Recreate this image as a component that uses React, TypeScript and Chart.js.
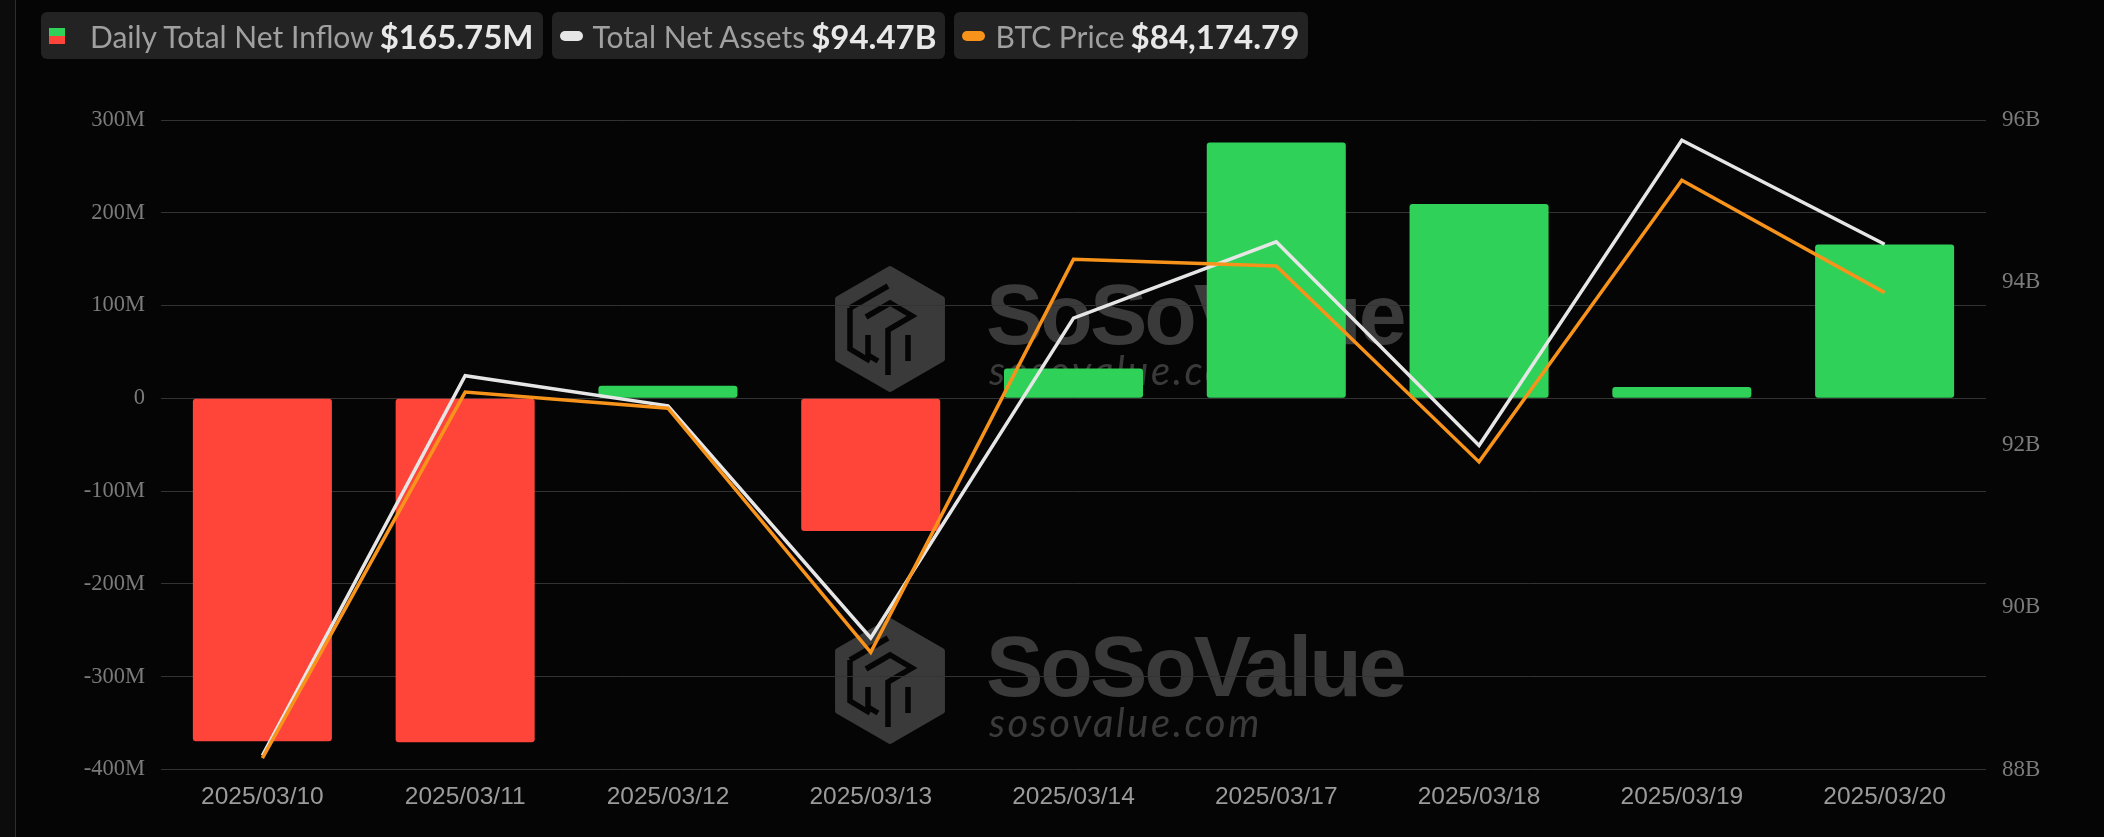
import React, { useEffect, useRef } from 'react';
import { Chart, registerables } from 'chart.js';

Chart.register(...registerables);

// ---------- data ----------
const categories = [
  '2025/03/10', '2025/03/11', '2025/03/12', '2025/03/13', '2025/03/14',
  '2025/03/17', '2025/03/18', '2025/03/19', '2025/03/20',
];
// Daily total net inflow, in millions of USD
const netInflowM = [-369.5, -370.5, 13.6, -142.9, 32.2, 275.8, 209.6, 12.2, 165.75];
// Total net assets, in billions of USD
const totalNetAssetsB = [88.17, 92.85, 92.48, 89.62, 93.56, 94.5, 91.99, 95.75, 94.47];
// BTC price, USD
const btcPrice = [78498, 82962, 82766, 79789, 84581, 84499, 82111, 85546, 84174.79];

// axis ranges
const inflowMin = -400;
const inflowMax = 300;
const inflowStep = 100;
const assetsMin = 88;
const assetsMax = 96;
const assetsStep = 2;
const priceMin = 78360;
const priceMax = 86280;

// legend texts
const legendInflowLabel = 'Daily Total Net Inflow';
const legendInflowValue = '$165.75M';
const legendAssetsLabel = 'Total Net Assets';
const legendAssetsValue = '$94.47B';
const legendPriceLabel = 'BTC Price';
const legendPriceValue = '$84,174.79';

const GREEN = '#30d158';
const RED = '#ff453a';
const WHITE_LINE = '#e6e6e6';
const ORANGE = '#f7931a';
const BG = '#050505';
const WM = '#3a3a3a';

function drawLogo(ctx: CanvasRenderingContext2D, cx: number, cy: number, r: number) {
  const hw = r * 0.866;
  ctx.save();
  ctx.fillStyle = WM;
  ctx.strokeStyle = WM;
  ctx.lineJoin = 'round';
  ctx.lineWidth = 6;
  ctx.beginPath();
  ctx.moveTo(cx, cy - r);
  ctx.lineTo(cx + hw, cy - r / 2);
  ctx.lineTo(cx + hw, cy + r / 2);
  ctx.lineTo(cx, cy + r);
  ctx.lineTo(cx - hw, cy + r / 2);
  ctx.lineTo(cx - hw, cy - r / 2);
  ctx.closePath();
  ctx.fill();
  ctx.stroke();
  const s = r / 60;
  const cuts: number[][][] = [
    [[-40, -21], [-40, 20], [-20, 32]],
    [[-40, -21], [-2, -43]],
    [[-24, -12], [0, -26], [22, -13], [-2, 1], [-2, 46]],
    [[-22, 6], [-22, 26], [-12, 32]],
    [[18, 6], [18, 32]],
  ];
  ctx.strokeStyle = BG;
  ctx.lineWidth = 5.5 * s;
  ctx.lineJoin = 'miter';
  ctx.lineCap = 'butt';
  for (const path of cuts) {
    ctx.beginPath();
    path.forEach(([x, y], i) => {
      if (i === 0) ctx.moveTo(cx + x * s, cy + y * s);
      else ctx.lineTo(cx + x * s, cy + y * s);
    });
    ctx.stroke();
  }
  ctx.restore();
}

const watermarkPlugin = {
  id: 'sosoWatermark',
  beforeDraw(chart: any) {
    const ctx: CanvasRenderingContext2D = chart.ctx;
    const centers = [329, 681];
    for (const cy of centers) {
      drawLogo(ctx, 890, cy, 60);
      ctx.save();
      ctx.fillStyle = WM;
      ctx.textAlign = 'left';
      ctx.textBaseline = 'alphabetic';
      ctx.font = 'bold 86px "Liberation Sans", Arial, sans-serif';
      (ctx as any).letterSpacing = '-3px';
      ctx.fillText('SoSoValue', 986, cy + 15);
      ctx.font = 'italic 40px Lato, "Open Sans", sans-serif';
      (ctx as any).letterSpacing = '2.5px';
      ctx.fillText('sosovalue.com', 989, cy + 56);
      ctx.restore();
    }
  },
};

const labelStyle: React.CSSProperties = {
  fontFamily: 'Lato, "Noto Sans", sans-serif',
  fontSize: 30,
  color: '#a0a0a0',
  whiteSpace: 'nowrap',
};
const valueStyle: React.CSSProperties = {
  fontFamily: 'Lato, "Noto Sans", sans-serif',
  fontWeight: 700,
  fontSize: 33,
  color: '#e8e8e8',
  whiteSpace: 'nowrap',
  marginLeft: 6,
};
const boxStyle: React.CSSProperties = {
  height: 47,
  background: '#232323',
  borderRadius: 6,
  display: 'flex',
  alignItems: 'center',
  paddingLeft: 8,
  paddingRight: 9,
  boxSizing: 'border-box',
};

export default function App() {
  const ref = useRef<HTMLCanvasElement>(null);
  useEffect(() => {
    document.body.style.margin = '0';
    document.body.style.background = BG;
    const chart = new Chart(ref.current as HTMLCanvasElement, {
      type: 'bar',
      data: {
        labels: categories,
        datasets: [
          {
            type: 'line',
            label: legendPriceLabel,
            data: btcPrice,
            yAxisID: 'yPrice',
            borderColor: ORANGE,
            backgroundColor: ORANGE,
            borderWidth: 3.5,
            pointRadius: 0,
            tension: 0,
            order: 0,
          } as any,
          {
            type: 'line',
            label: legendAssetsLabel,
            data: totalNetAssetsB,
            yAxisID: 'yAssets',
            borderColor: WHITE_LINE,
            backgroundColor: WHITE_LINE,
            borderWidth: 3.5,
            pointRadius: 0,
            tension: 0,
            order: 1,
          } as any,
          {
            type: 'bar',
            label: legendInflowLabel,
            data: netInflowM,
            yAxisID: 'yInflow',
            backgroundColor: netInflowM.map((v) => (v >= 0 ? GREEN : RED)),
            borderRadius: 3,
            borderSkipped: false,
            categoryPercentage: 0.8,
            barPercentage: 0.857,
            order: 2,
          } as any,
        ],
      },
      options: {
        animation: false,
        responsive: true,
        maintainAspectRatio: false,
        layout: { padding: { top: 120, left: 0, right: 0, bottom: 0 } },
        plugins: { legend: { display: false }, tooltip: { enabled: false } },
        scales: {
          x: {
            type: 'category',
            grid: { display: false, drawTicks: false },
            border: { display: false },
            ticks: {
              color: '#9b9b9b',
              font: { family: '"Liberation Sans", Arial, sans-serif', size: 24.5 },
              padding: 13,
              maxRotation: 0,
              autoSkip: false,
            },
            afterFit: (s: any) => { s.height = 67.5; },
          },
          yInflow: {
            type: 'linear',
            position: 'left',
            min: inflowMin,
            max: inflowMax,
            grid: { color: '#333333', lineWidth: 1, drawTicks: false },
            border: { display: false },
            ticks: {
              stepSize: inflowStep,
              color: '#7b7b7b',
              font: { family: '"Liberation Serif", "Times New Roman", serif', size: 22.5 },
              padding: 16,
              callback: (v: any) => (Number(v) === 0 ? '0' : `${v}M`),
            },
            afterFit: (s: any) => { s.width = 161; },
          },
          yAssets: {
            type: 'linear',
            position: 'right',
            min: assetsMin,
            max: assetsMax,
            grid: { display: false, drawTicks: false },
            border: { display: false },
            ticks: {
              stepSize: assetsStep,
              color: '#7b7b7b',
              font: { family: '"Liberation Serif", "Times New Roman", serif', size: 23 },
              padding: 16,
              callback: (v: any) => `${v}B`,
            },
            afterFit: (s: any) => { s.width = 118; },
          },
          yPrice: {
            type: 'linear',
            display: false,
            min: priceMin,
            max: priceMax,
          },
        },
      } as any,
      plugins: [watermarkPlugin],
    });
    return () => chart.destroy();
  }, []);

  return (
    <div style={{ position: 'absolute', left: 0, top: 0, width: 2104, height: 837, background: BG, overflow: 'hidden' }}>
      <div style={{ position: 'absolute', left: 0, top: 0, width: 2104, height: 837 }}>
        <canvas ref={ref} />
      </div>
      <div style={{ position: 'absolute', left: 0, top: 0, width: 15, height: 837, background: '#0c0c0c', borderRight: '1px solid #2e2e2e' }} />
      <div style={{ position: 'absolute', left: 41, top: 12, display: 'flex', gap: 9 }}>
        <div style={boxStyle}>
          <div style={{ width: 16, height: 16, display: 'flex', flexDirection: 'column', marginRight: 25 }}>
            <div style={{ flex: 1, background: GREEN }} />
            <div style={{ flex: 1, background: RED }} />
          </div>
          <span style={labelStyle}>{legendInflowLabel}</span>
          <span style={valueStyle}>{legendInflowValue}</span>
        </div>
        <div style={boxStyle}>
          <div style={{ width: 23, height: 10, borderRadius: 5, background: WHITE_LINE, marginRight: 10 }} />
          <span style={labelStyle}>{legendAssetsLabel}</span>
          <span style={valueStyle}>{legendAssetsValue}</span>
        </div>
        <div style={boxStyle}>
          <div style={{ width: 23, height: 10, borderRadius: 5, background: ORANGE, marginRight: 10 }} />
          <span style={labelStyle}>{legendPriceLabel}</span>
          <span style={valueStyle}>{legendPriceValue}</span>
        </div>
      </div>
    </div>
  );
}
